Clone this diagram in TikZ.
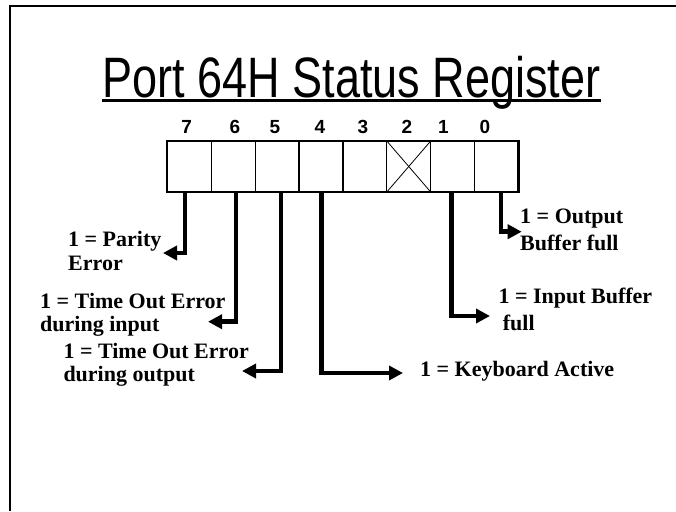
\documentclass[tikz,border=0pt]{standalone}
\usepackage{fontspec}
\setmainfont{Liberation Serif}
\setsansfont{Liberation Sans}
\usepackage{graphicx}
\usepackage{tikz}
\usetikzlibrary{arrows.meta}

\begin{document}
\begin{tikzpicture}[x=1pt, y=-1pt,
  cell/.style={draw, line width=1.2pt, inner sep=0pt, outer sep=0pt,
               minimum width=43.9pt, minimum height=51pt},
  bitno/.style={font=\fontsize{19}{20}\selectfont\sffamily\bfseries,
               anchor=base, inner sep=0pt},
  lbl/.style={font=\fontsize{22}{23.5}\selectfont\bfseries, align=left,
               anchor=base west, inner sep=0pt},
  flag/.style={line width=4.5pt, -{Triangle[length=14pt, width=14pt]}}]

  \useasboundingbox (0,0) rectangle (676,511);
  \draw[line width=2.5pt] (10,511) -- (10,6) -- (676,6);

  % Title
  \node[font=\fontsize{57}{60}\selectfont\sffamily, anchor=base, inner sep=0pt]
    (title) at (351.5,97) {\scalebox{0.79}[1]{Port 64H Status Register}};
  \draw[line width=2.5pt] ([yshift=-3.5pt]title.base west)
    -- ([yshift=-3.5pt]title.base east);

  % Register cells, bit 7 left
  \node[cell] (c7) at (189.25,166.5) {};
  \node[cell] (c6) at (233.15,166.5) {};
  \node[cell] (c5) at (277.05,166.5) {};
  \node[cell] (c4) at (320.95,166.5) {};
  \node[cell] (c3) at (364.85,166.5) {};
  \node[cell] (c2) at (408.75,166.5) {};
  \node[cell] (c1) at (452.65,166.5) {};
  \node[cell] (c0) at (496.55,166.5) {};
  \draw[line width=2.2pt] (c7.north west) rectangle (c0.south east);
  \draw[line width=0.8pt] (c2.north west) -- (c2.south east)
    (c2.north east) -- (c2.south west);

  \node[bitno] (b7) at (186.7,133.3) {7};
  \node[bitno] (b6) at (235,133.3) {6};
  \node[bitno] (b5) at (275,133.3) {5};
  \node[bitno] (b4) at (320,133.3) {4};
  \node[bitno] (b3) at (363,133.3) {3};
  \node[bitno] (b2) at (407,133.3) {2};
  \node[bitno] (b1) at (443.3,133.3) {1};
  \node[bitno] (b0) at (485,133.3) {0};

  % Bit meanings (anchored at the last line)
  \node[lbl] (parity) at (68,270) {1 = Parity\\Error};
  \node[lbl] (toin) at (40,331.7) {1 = Time Out Error\\during input};
  \node[lbl] (toout) at (63.3,381.7) {1 = Time Out Error\\during output};
  \node[lbl] (kbd) at (420,376.7) {1 = Keyboard Active};
  \node[lbl] (ibf) at (498.3,330) {1 = Input Buffer\\[3pt]\hspace{4.4pt}full};
  \node[lbl] (obf) at (520,250) {1 = Output\\[3pt]Buffer full};

  \coordinate (t7) at (163,253);
  \coordinate (t6) at (208,321.7);
  \coordinate (t5) at (242,371);
  \coordinate (t4) at (403,373);
  \coordinate (t1) at (490,316);
  \coordinate (t0) at (521.7,231.7);

  \draw[flag] ([xshift=-4.25pt]c7.south) |- (t7);
  \draw[flag] ([xshift=2.85pt]c6.south) |- (t6);
  \draw[flag] ([xshift=3.95pt]c5.south) |- (t5);
  \draw[flag] ([xshift=0.75pt]c4.south) |- (t4);
  \draw[flag] ([xshift=-0.95pt]c1.south) |- (t1);
  \draw[flag] ([xshift=4.45pt]c0.south) |- (t0);
\end{tikzpicture}
\end{document}
